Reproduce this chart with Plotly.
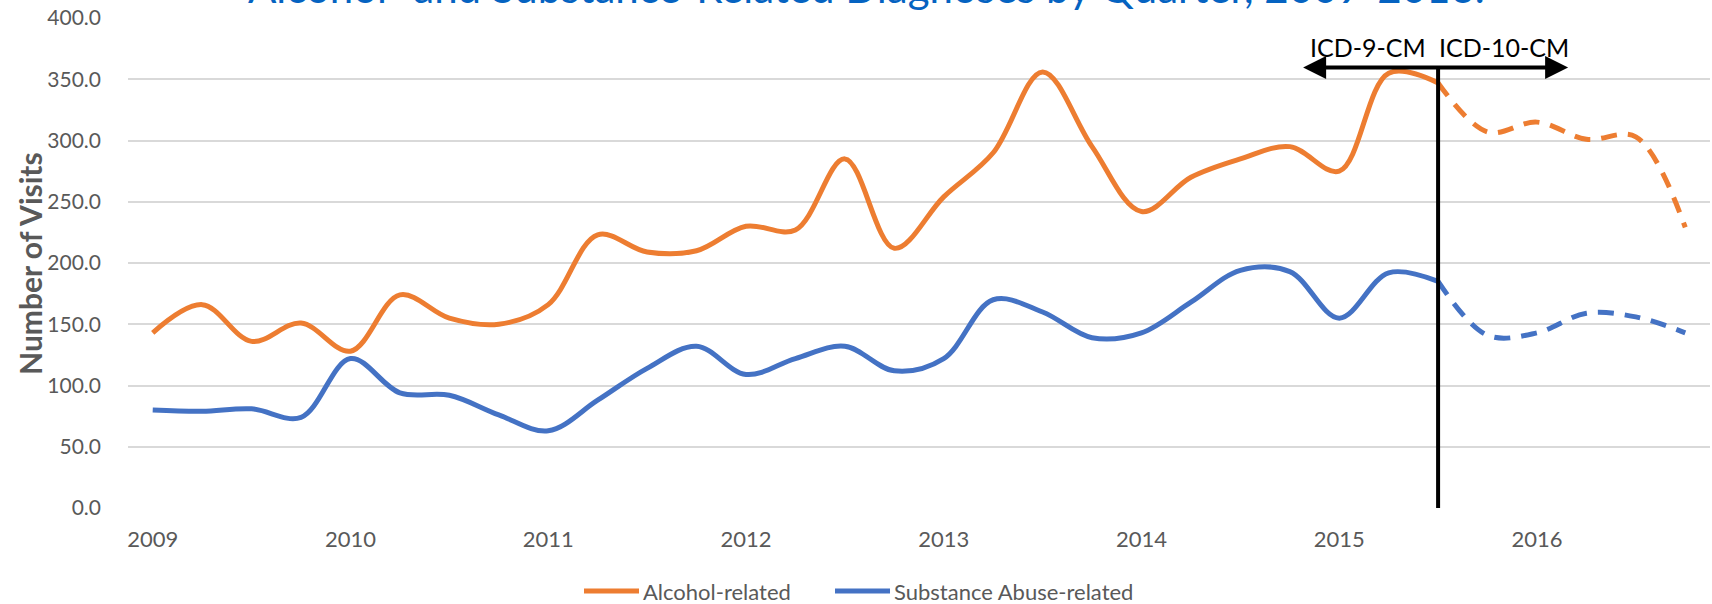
import plotly.graph_objects as go

years = ["2009", "2010", "2011", "2012", "2013", "2014", "2015", "2016"]
quarters = list(range(32))  # 2009Q1 .. 2016Q4

alcohol = [143, 166, 136, 151, 128, 174, 155, 150,
           166, 223, 209, 210, 230, 227, 285, 212,
           254, 290, 356, 295, 242, 270, 285, 295,
           275, 355, 347, 307, 315, 301, 303, 229]
substance = [80, 79, 81, 74, 122, 94, 92, 76,
             63, 88, 114, 132, 109, 122, 132, 112,
             122, 170, 160, 139, 143, 168, 194, 193,
             155, 192, 185, 141, 143, 159, 156, 143]
series_names = ["Alcohol-related", "Substance Abuse-related"]

split = 26  # ICD-10-CM transition quarter index
ORANGE = "#ED7D31"
BLUE = "#4472C4"
FONT = "Lato"
GRAY = "#595959"

PLOT_L, PLOT_W, PLOT_T, PLOT_H = 128, 1582, 18, 490


def px_x(p):
    return (p - PLOT_L) / PLOT_W


def px_y(p):
    return (PLOT_T + PLOT_H - p) / PLOT_H


fig = go.Figure()
for name, vals, col in [(series_names[0], alcohol, ORANGE),
                        (series_names[1], substance, BLUE)]:
    fig.add_trace(go.Scatter(x=quarters[:split + 1], y=vals[:split + 1], mode="lines",
                             name=name, showlegend=False,
                             line=dict(color=col, width=5, shape="spline", smoothing=1.0)))
    fig.add_trace(go.Scatter(x=quarters[split:], y=vals[split:], mode="lines",
                             name=name + " (ICD-10-CM)", showlegend=False,
                             line=dict(color=col, width=5, shape="spline", smoothing=1.0, dash="16px,11px")))

# vertical transition line
fig.add_shape(type="line", x0=split, x1=split, y0=0, y1=359.6, xref="x", yref="y",
              line=dict(color="black", width=4))
# double arrow
fig.add_annotation(x=28.63, y=359.6, ax=23.24, ay=359.6, xref="x", yref="y", axref="x", ayref="y",
                   showarrow=True, arrowhead=2, arrowside="end+start", arrowsize=1.15,
                   arrowwidth=4, arrowcolor="black", text="")
fig.add_annotation(x=24.58, y=376, xref="x", yref="y", text="ICD-9-CM", showarrow=False,
                   font=dict(family=FONT, size=25, color="black"))
fig.add_annotation(x=27.33, y=376, xref="x", yref="y", text="ICD-10-CM", showarrow=False,
                   font=dict(family=FONT, size=25, color="black"))

# title (partially cut off at top as in reference)
fig.add_annotation(x=0.4665, y=1.063, xref="paper", yref="paper", xanchor="center", yanchor="middle",
                   text="Alcohol- and Substance-Related Diagnoses by Quarter, 2009-2016.",
                   showarrow=False, font=dict(family=FONT, size=42, color="#0563C1"))
# y-axis title
fig.add_annotation(x=-0.062, y=0.5, xref="paper", yref="paper", textangle=-90,
                   xanchor="center", yanchor="middle",
                   text="<b>Number of Visits</b>", showarrow=False,
                   font=dict(family=FONT, size=30, color=GRAY))

# legend (drawn below the plot: line sample + label)
leg_y = px_y(591)
for (x0, x1, xt), name, col in [((584, 639, 641), series_names[0], ORANGE),
                                 ((835, 890, 892), series_names[1], BLUE)]:
    fig.add_shape(type="line", xref="paper", yref="paper", x0=px_x(x0), x1=px_x(x1),
                  y0=leg_y, y1=leg_y, line=dict(color=col, width=5))
    fig.add_annotation(x=px_x(xt), y=leg_y, xref="paper", yref="paper", xanchor="left",
                       yanchor="middle", text=name, showarrow=False,
                       font=dict(family=FONT, size=22, color=GRAY))

fig.update_layout(
    width=1712, height=604,
    margin=dict(l=PLOT_L, r=1712 - PLOT_L - PLOT_W, t=PLOT_T, b=604 - PLOT_T - PLOT_H, autoexpand=False),
    paper_bgcolor="white", plot_bgcolor="white",
    font=dict(family=FONT, size=21, color=GRAY),
    showlegend=False,
    xaxis=dict(range=[-0.5, 31.5], tickvals=[0, 4, 8, 12, 16, 20, 24, 28], ticktext=years,
               showgrid=False, zeroline=False, showline=False, ticks="", automargin=False,
               ticklabelstandoff=16, tickfont=dict(family=FONT, size=22, color=GRAY)),
    yaxis=dict(range=[0, 400], tickvals=list(range(0, 401, 50)), tickformat=".1f",
               showgrid=True, gridcolor="#D9D9D9", gridwidth=2, zeroline=False, showline=False,
               ticks="", automargin=False, ticklabelstandoff=26,
               tickfont=dict(family=FONT, size=21, color=GRAY)),
)

fig.write_html("out.html", config={"displayModeBar": False},
               post_script="document.body.style.margin='0';document.body.style.overflow='hidden';")
